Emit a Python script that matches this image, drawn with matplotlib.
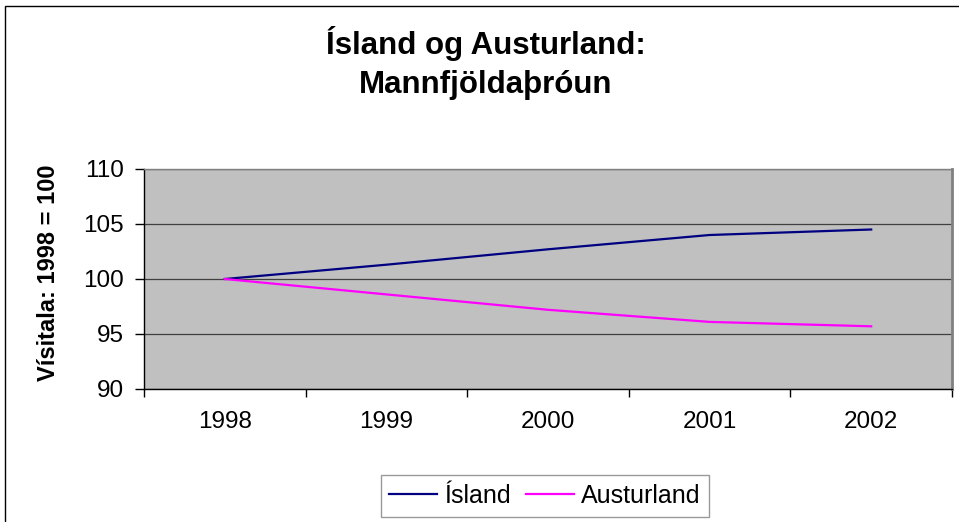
import matplotlib
matplotlib.use("Agg")
import matplotlib.pyplot as plt
from matplotlib.patches import Rectangle
from matplotlib.ticker import FixedLocator

plt.rcParams['font.family'] = ['Liberation Sans', 'DejaVu Sans']

years = ["1998", "1999", "2000", "2001", "2002"]
island = [100.0, 101.3, 102.7, 104.0, 104.5]
austurland = [100.0, 98.6, 97.2, 96.1, 95.7]
yticks = [90, 95, 100, 105, 110]
title = "Ísland og Austurland:\nMannfjöldaþróun"
ylabel = "Vísitala: 1998 = 100"

W, H = 959, 522
fig = plt.figure(figsize=(W / 100, H / 100), dpi=100)
fig.patch.set_facecolor("white")

# outer chart border
fig.patches.append(Rectangle((5 / W, -0.05), 1.2, 1 - 6 / H + 0.05, transform=fig.transFigure,
                             fill=False, edgecolor="black", linewidth=1.0))

ax = fig.add_axes([144 / W, 1 - 389 / H, (952 - 144) / W, (389 - 169) / H])
ax.set_facecolor("#C0C0C0")

x = list(range(len(years)))
ax.plot(x, island, color="#000080", linewidth=1.6, label="Ísland", zorder=3)
ax.plot(x, austurland, color="#FF00FF", linewidth=1.6, label="Austurland", zorder=3)

ax.set_xlim(-0.5, len(years) - 0.5)
ax.set_ylim(90, 110)
ax.set_yticks(yticks)
ax.set_yticklabels([str(v) for v in yticks])
ax.yaxis.grid(True, color="#404040", linewidth=0.9)
ax.set_axisbelow(True)

ax.xaxis.set_major_locator(FixedLocator([i - 0.5 for i in range(len(years) + 1)]))
ax.xaxis.set_minor_locator(FixedLocator(x))
ax.set_xticklabels([], minor=False)
ax.set_xticklabels(years, minor=True)
ax.tick_params(axis="x", which="major", length=6, width=1, color="black", direction="out")
ax.tick_params(axis="x", which="minor", length=0, pad=16, labelsize=17.5)
ax.tick_params(axis="y", which="major", length=6.5, width=1, color="black", pad=8, labelsize=17.5)

for s in ["left", "bottom"]:
    ax.spines[s].set_color("black")
    ax.spines[s].set_linewidth(1)
ax.spines["top"].set_color("#808080")
ax.spines["top"].set_linewidth(1)
ax.spines["right"].set_color("#808080")
ax.spines["right"].set_linewidth(2)

fig.text(486 / W, 1 - 63 / H, title, ha="center", va="center", fontsize=22.5,
         fontweight="bold", linespacing=1.35)
fig.text(49 / W, 1 - 273 / H, ylabel, ha="center", va="center", rotation=90,
         fontsize=17, fontweight="bold")

leg = fig.legend(loc="center", bbox_to_anchor=(545 / W, 1 - 496 / H), ncol=2, fontsize=18,
                 frameon=True, fancybox=False, edgecolor="#808080", handlelength=1.9,
                 handletextpad=0.3, columnspacing=0.6, borderpad=0.35)
leg.get_frame().set_linewidth(1)

fig.savefig("out.png", dpi=100)
